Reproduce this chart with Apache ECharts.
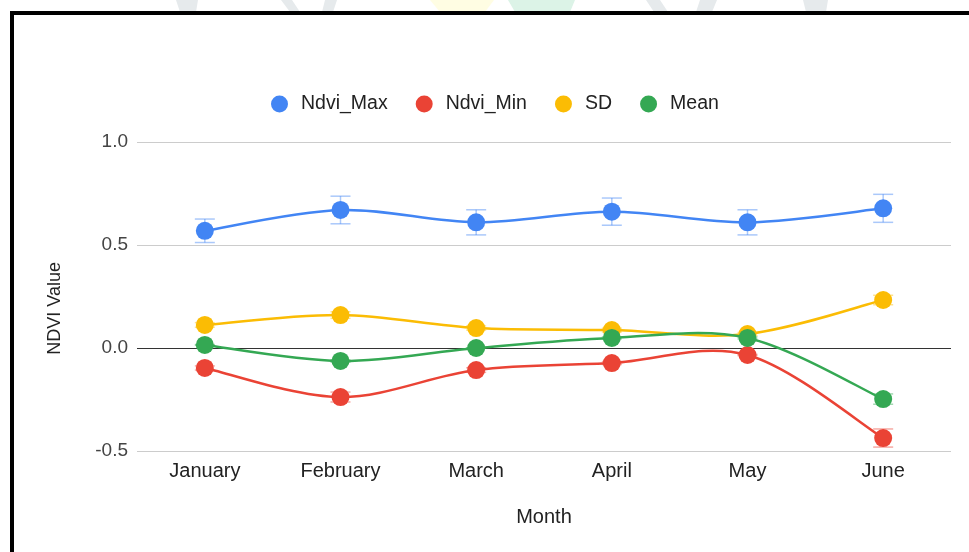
<!DOCTYPE html>
<html>
<head>
<meta charset="utf-8">
<script src="https://cdn.jsdelivr.net/npm/echarts@6/dist/echarts.min.js"></script>
<style>html,body{margin:0;padding:0;background:#fff}#c{width:969px;height:552px}</style>
</head>
<body>
<div id="c"></div>
<script>
var months = ['January', 'February', 'March', 'April', 'May', 'June'];
var ndviMax = [0.569, 0.670, 0.610, 0.662, 0.610, 0.678];
var ndviMin = [-0.097, -0.238, -0.107, -0.073, -0.034, -0.437];
var sdVals = [0.112, 0.160, 0.097, 0.087, 0.068, 0.233];
var meanVals = [0.015, -0.063, 0.000, 0.049, 0.049, -0.248];
var errMax = [0.057, 0.067, 0.061, 0.066, 0.061, 0.068];
var errMin = [0.010, 0.024, 0.011, 0.007, 0.003, 0.044];
var errSd = [0.011, 0.016, 0.010, 0.009, 0.007, 0.023];
var errMean = [0.002, 0.006, 0.000, 0.005, 0.005, 0.025];
var yTicks = [-0.5, 0.0, 0.5, 1.0];

var FONT = '"Liberation Sans", Arial, sans-serif';
var names = ['Ndvi_Max', 'Ndvi_Min', 'SD', 'Mean'];
var colors = ['#4285F4', '#EA4335', '#FBBC04', '#34A853'];
var vals = [ndviMax, ndviMin, sdVals, meanVals];
var errs = [errMax, errMin, errSd, errMean];

var series = [];
// error bars
vals.forEach(function (v, k) {
  series.push({
    name: names[k] + '_err', type: 'custom', z: 1, silent: true,
    data: v.map(function (y, i) { return [i, y, errs[k][i]]; }),
    renderItem: function (params, api) {
      var i = api.value(0), y = api.value(1), e = api.value(2);
      var top = api.coord([i, y + e]);
      var bot = api.coord([i, y - e]);
      var half = 10;
      var st = { stroke: colors[k], lineWidth: 1.5, opacity: 0.45 };
      return { type: 'group', children: [
        { type: 'line', shape: { x1: top[0], y1: top[1], x2: bot[0], y2: bot[1] }, style: st },
        { type: 'line', shape: { x1: top[0] - half, y1: top[1], x2: top[0] + half, y2: top[1] }, style: st },
        { type: 'line', shape: { x1: bot[0] - half, y1: bot[1], x2: bot[0] + half, y2: bot[1] }, style: st }
      ]};
    }
  });
});
// smooth curves (Catmull-Rom through the axis coordinates)
vals.forEach(function (v, k) {
  series.push({
    name: names[k] + '_curve', type: 'custom', z: 2 + 2 * k, silent: true,
    data: v.slice(0, v.length - 1).map(function (y, i) { return [i, y]; }),
    renderItem: function (params, api) {
      var i = api.value(0);
      var n = v.length;
      function P(j) { j = Math.max(0, Math.min(n - 1, j)); return api.coord([j, v[j]]); }
      var p0 = P(i - 1), p1 = P(i), p2 = P(i + 1), p3 = P(i + 2);
      var s = 1 / 6;
      return {
        type: 'bezierCurve',
        shape: {
          x1: p1[0], y1: p1[1], x2: p2[0], y2: p2[1],
          cpx1: p1[0] + (p2[0] - p0[0]) * s, cpy1: p1[1] + (p2[1] - p0[1]) * s,
          cpx2: p2[0] - (p3[0] - p1[0]) * s, cpy2: p2[1] - (p3[1] - p1[1]) * s
        },
        style: { stroke: colors[k], lineWidth: 2.5, fill: 'none' }
      };
    }
  });
  series.push({
    name: names[k], type: 'line', data: v, z: 3 + 2 * k,
    symbol: 'circle', symbolSize: 18, showSymbol: true,
    lineStyle: { width: 0, opacity: 0 },
    itemStyle: { color: colors[k] }
  });
});

var chart = echarts.init(document.getElementById('c'));
chart.setOption({
  animation: false,
  backgroundColor: '#fff',
  color: colors,
  legend: {
    data: names.map(function (nm) { return { name: nm, icon: 'circle' }; }),
    top: 89, left: 266, itemWidth: 17, itemHeight: 17, itemGap: 28,
    textStyle: { fontFamily: FONT, fontSize: 19.5, color: '#222', padding: [0, 0, 0, 8] }
  },
  grid: { left: 137, right: 18, top: 142, bottom: 101 },
  xAxis: {
    type: 'category', data: months, boundaryGap: true,
    axisLine: { show: false }, axisTick: { show: false },
    axisLabel: { fontFamily: FONT, fontSize: 20, color: '#222', margin: 10 },
    name: 'Month', nameLocation: 'middle', nameGap: 56,
    nameTextStyle: { fontFamily: FONT, fontSize: 20, color: '#222' }
  },
  yAxis: {
    type: 'value', min: yTicks[0], max: yTicks[yTicks.length - 1], interval: 0.5,
    axisLine: { show: false }, axisTick: { show: false },
    axisLabel: { fontFamily: FONT, fontSize: 19, color: '#444', margin: 9,
      formatter: function (v) { return v.toFixed(1); } },
    splitLine: { lineStyle: { color: ['#cccccc', '#333333', '#cccccc', '#cccccc'], width: 1 } }
  },
  graphic: [
    { type: 'text', left: 46, top: 262, rotation: Math.PI / 2,
      style: { text: 'NDVI Value', font: '18px ' + FONT, fill: '#222' } },
    { type: 'polygon', shape: { points: [[176, 0], [198, 0], [196, 12], [180, 12]] }, style: { fill: '#e6eaec' }, silent: true },
    { type: 'polygon', shape: { points: [[281, 0], [292, 0], [300, 12], [290, 12]] }, style: { fill: '#e6eaec' }, silent: true },
    { type: 'polygon', shape: { points: [[325, 0], [337, 0], [333, 12], [322, 12]] }, style: { fill: '#e6eaec' }, silent: true },
    { type: 'polygon', shape: { points: [[430, 0], [494, 0], [485, 12], [440, 12]] }, style: { fill: '#fffde3' }, silent: true },
    { type: 'polygon', shape: { points: [[508, 0], [575, 0], [570, 12], [515, 12]] }, style: { fill: '#dcf3e7' }, silent: true },
    { type: 'polygon', shape: { points: [[646, 0], [660, 0], [668, 12], [654, 12]] }, style: { fill: '#e6eaec' }, silent: true },
    { type: 'polygon', shape: { points: [[700, 0], [717, 0], [712, 12], [696, 12]] }, style: { fill: '#e6eaec' }, silent: true },
    { type: 'polygon', shape: { points: [[803, 0], [828, 0], [826, 12], [806, 12]] }, style: { fill: '#e6eaec' }, silent: true },
    { type: 'rect', shape: { x: 12, y: 13, width: 1200, height: 1000 }, style: { fill: 'none', stroke: '#000', lineWidth: 4 }, silent: true, z: 100 }
  ],
  series: series
});
</script>
</body>
</html>
